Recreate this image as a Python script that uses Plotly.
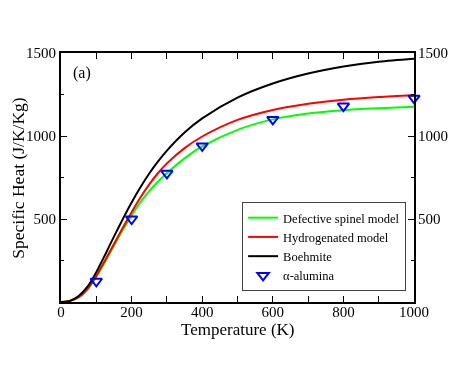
import plotly.graph_objects as go

temps = [0, 25, 50, 75, 100, 125, 150, 175, 200, 225, 250, 275, 300, 350, 400, 500, 600, 700, 800, 900, 1000]
spinel = [0, 6, 27, 75, 151, 242, 338, 433, 522, 601, 668, 726, 776, 865, 937, 1037, 1100, 1135, 1155, 1167, 1176]
hydrogenated = [0, 6, 29, 79, 158, 252, 350, 447, 541, 630, 709, 777, 835, 927, 997, 1097, 1157, 1194, 1219, 1235, 1246]
boehmite = [0, 7, 36, 92, 180, 285, 394, 499, 599, 691, 774, 847, 912, 1021, 1106, 1231, 1316, 1376, 1418, 1447, 1465]

alumina_t = [100, 200, 300, 400, 600, 800, 1000]
alumina_cp = [125, 500, 775, 940, 1100, 1180, 1228]

x_ticks = [0, 200, 400, 600, 800, 1000]
y_ticks = [500, 1000, 1500]
y_minor = [250, 750, 1250]

FONT = "Liberation Serif"

fig = go.Figure()
fig.add_trace(go.Scatter(x=temps, y=spinel, mode="lines", name="Defective spinel model",
                         line=dict(color="#00ff00", width=2, shape="spline", smoothing=0.8)))
fig.add_trace(go.Scatter(x=temps, y=hydrogenated, mode="lines", name="Hydrogenated model",
                         line=dict(color="#ff0000", width=2, shape="spline", smoothing=0.8)))
fig.add_trace(go.Scatter(x=temps, y=boehmite, mode="lines", name="Boehmite",
                         line=dict(color="#000000", width=2, shape="spline", smoothing=0.8)))
fig.add_trace(go.Scatter(x=alumina_t, y=alumina_cp, mode="markers", name="α-alumina",
                         marker=dict(symbol="triangle-down-open", size=10, color="#0000ff",
                                     line=dict(width=2, color="#0000ff")), cliponaxis=False))
# helper trace so the right-hand axis is drawn
fig.add_trace(go.Scatter(x=alumina_t, y=alumina_cp, mode="markers", yaxis="y2",
                         opacity=0, showlegend=False, hoverinfo="skip"))

axis_common = dict(showgrid=False, zeroline=False, ticks="inside", tickcolor="black",
                   automargin=False,
                   tickfont=dict(family=FONT, size=15, color="black"))

# page body has an 8px default margin, so the plot area is offset accordingly
fig.update_layout(
    width=474, height=366,
    margin=dict(l=53, r=68, t=45, b=72),
    paper_bgcolor="white", plot_bgcolor="white",
    font=dict(family=FONT, color="black"),
    showlegend=True,
    xaxis=dict(range=[0, 1000], tickvals=x_ticks, ticklen=6, tickwidth=1,
               showline=True, linecolor="black", linewidth=2, mirror="allticks",
               minor=dict(dtick=100, ticks="inside", ticklen=3, tickcolor="black"),
               ticklabelstandoff=-5,
               **axis_common),
    yaxis=dict(range=[0, 1500], tickvals=y_ticks, ticklen=6, tickwidth=1,
               showline=True, linecolor="black", linewidth=2, mirror=True,
               minor=dict(tickvals=y_minor, ticks="inside", ticklen=3, tickcolor="black"),
               **axis_common),
    yaxis2=dict(range=[0, 1500], tickvals=y_ticks, ticklen=6, tickwidth=1,
                overlaying="y", side="right", showline=False,
                minor=dict(tickvals=y_minor, ticks="inside", ticklen=3, tickcolor="black"),
                ticklabelstandoff=3,
                **axis_common),
    legend=dict(x=0.513, y=0.044, xanchor="left", yanchor="bottom",
                bgcolor="white", bordercolor="#444444", borderwidth=1,
                font=dict(family=FONT, size=12.5, color="black"),
                tracegroupgap=0, itemwidth=30),
    annotations=[
        dict(text="(a)", x=0.028, y=0.919, xref="paper", yref="paper",
             xanchor="left", yanchor="middle", showarrow=False,
             font=dict(family=FONT, size=16, color="black")),
        dict(text="Temperature (K)", x=0.5, y=-0.112, xref="paper", yref="paper",
             xanchor="center", yanchor="middle", showarrow=False,
             font=dict(family=FONT, size=17, color="black")),
        dict(text="Specific Heat (J/K/Kg)", x=-0.124, y=0.5, xref="paper", yref="paper",
             xanchor="center", yanchor="middle", showarrow=False, textangle=-90,
             font=dict(family=FONT, size=17.5, color="black")),
    ],
)

fig.write_html("out.html")
